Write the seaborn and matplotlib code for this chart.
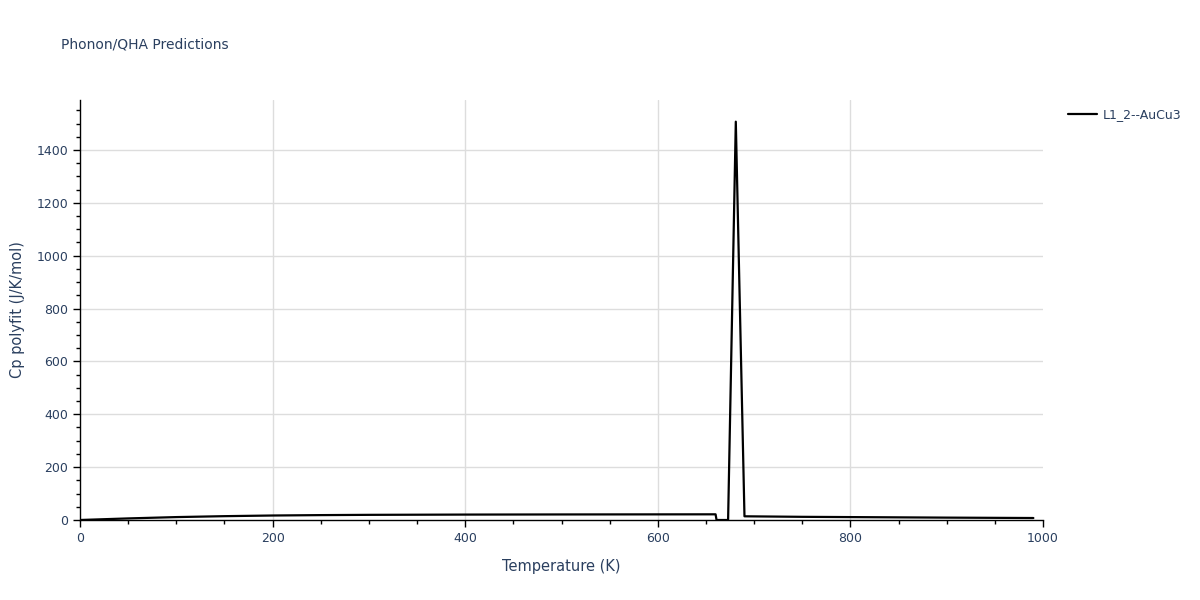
import numpy as np
import pandas as pd
import matplotlib
matplotlib.use("Agg")
import matplotlib.pyplot as plt
from matplotlib.ticker import MultipleLocator
from matplotlib.lines import Line2D
import seaborn as sns

# data (piecewise linear curve)
temperature = [0, 50, 100, 150, 200, 250, 300, 400, 500, 600, 660, 661, 673, 681, 690, 750, 800, 900, 990]
cp_polyfit = [0, 6, 11, 14.5, 17, 18.5, 19.5, 20.5, 21, 21.3, 21.5, 0, 0, 1507, 14, 12, 11, 9, 7.5]
series_name = "L1_2--AuCu3"

df = pd.DataFrame({"Temperature (K)": temperature, "Cp": cp_polyfit, "series": series_name})

sns.set_style("white")
plt.rcParams['font.family'] = ['DejaVu Sans']
text_col = "#2a3f5f"

fig = plt.figure(figsize=(12, 6), dpi=100)
ax = fig.add_axes([80 / 1200, 80 / 600, 963 / 1200, 420 / 600])

sns.lineplot(data=df, x="Temperature (K)", y="Cp", hue="series", palette=["black"],
             linewidth=1.6, ax=ax, sort=False, legend=False)

ax.set_xlim(0, 1000)
ax.set_ylim(0, 1589)
ax.xaxis.set_major_locator(MultipleLocator(200))
ax.xaxis.set_minor_locator(MultipleLocator(50))
ax.yaxis.set_major_locator(MultipleLocator(200))
ax.yaxis.set_minor_locator(MultipleLocator(50))

# grid lines, drawn by hand so the edges stay clean
for gx in [200, 400, 600, 800]:
    ax.axvline(gx, color="#dddddd", linewidth=1, zorder=0)
for gy in [200, 400, 600, 800, 1000, 1200, 1400]:
    ax.axhline(gy, color="#dddddd", linewidth=1, zorder=0)

for s in ["top", "right"]:
    ax.spines[s].set_visible(False)
for s in ["left", "bottom"]:
    ax.spines[s].set_color("black")
    ax.spines[s].set_linewidth(1)

ax.tick_params(axis="both", which="major", direction="out", length=5, width=1,
               color="black", labelcolor=text_col, labelsize=9, bottom=True, left=True)
ax.tick_params(axis="both", which="minor", direction="out", length=3, width=1,
               color="black", bottom=True, left=True)

ax.set_xlabel("Temperature (K)", color=text_col, fontsize=10.5, labelpad=10)
ax.set_ylabel("Cp polyfit (J/K/mol)", color=text_col, fontsize=10.5, labelpad=8)

fig.text(61 / 1200, 1 - 45 / 600, "Phonon/QHA Predictions", color=text_col,
         fontsize=10, va="center", ha="left")

# legend
handle = Line2D([], [], color="black", linewidth=1.6)
leg = fig.legend([handle], [series_name], loc="upper left",
                 bbox_to_anchor=(1057 / 1200, 1 - 97 / 600), frameon=False,
                 fontsize=9, handlelength=2.3, handletextpad=0.5)
for t in leg.get_texts():
    t.set_color(text_col)

fig.savefig("out.png", dpi=100)
